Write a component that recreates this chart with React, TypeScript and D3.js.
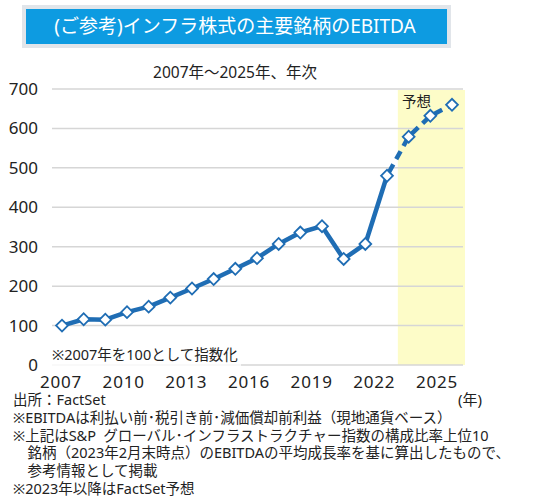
import { useEffect, useRef } from "react";
import * as d3 from "d3";

const years = [2007, 2008, 2009, 2010, 2011, 2012, 2013, 2014, 2015, 2016, 2017, 2018, 2019, 2020, 2021, 2022, 2023, 2024, 2025];
const ebitda = [100, 116, 115, 134, 148, 171, 194, 218, 244, 271, 307, 336, 352, 269, 307, 480, 579, 632, 660];
const forecastFrom = 2022;
const yTicks = [0, 100, 200, 300, 400, 500, 600, 700];
const xTicks = [2007, 2010, 2013, 2016, 2019, 2022, 2025];
const notes = [
  "出所：FactSet",
  "※EBITDAは利払い前･税引き前･減価償却前利益（現地通貨ベース）",
  "※上記はS&P\u2002グローバル･インフラストラクチャー指数の構成比率上位10",
  "　銘柄（2023年2月末時点）のEBITDAの平均成長率を基に算出したもので、",
  "　参考情報として掲載",
  "※2023年以降はFactSet予想",
];

const FONT = "'Noto Sans', 'Noto Sans CJK JP', sans-serif";
const BLUE = "#1f6db4";

export default function App() {
  const ref = useRef<SVGSVGElement>(null);

  useEffect(() => {
    const svg = d3.select(ref.current);
    svg.selectAll("*").remove();

    const x = d3.scaleLinear().domain([2007, 2025]).range([62, 452]);
    const y = d3.scaleLinear().domain([0, 700]).range([365, 89]);
    // tick labels in the source sit on a slightly narrower spacing than the points
    const xLab = d3.scaleLinear().domain([2007, 2025]).range([61, 437]);

    // title box
    svg.append("rect").attr("x", 22).attr("y", 5).attr("width", 429).attr("height", 43).attr("fill", "#e1e5ea");
    svg.append("rect").attr("x", 26).attr("y", 9).attr("width", 421).attr("height", 35).attr("fill", "#0d9be1");
    svg
      .append("text")
      .attr("x", 235)
      .attr("y", 33)
      .attr("text-anchor", "middle")
      .attr("fill", "#fff")
      .attr("font-size", 19)
      .attr("font-family", FONT)
      .text("(ご参考)インフラ株式の主要銘柄のEBITDA");

    svg
      .append("text")
      .attr("x", 235)
      .attr("y", 78)
      .attr("text-anchor", "middle")
      .attr("fill", "#222")
      .attr("font-size", 15.5)
      .attr("font-family", FONT)
      .text("2007年～2025年、年次");

    // forecast band
    const bandX0 = (x(2022) + x(2023)) / 2;
    svg
      .append("rect")
      .attr("x", bandX0)
      .attr("y", y(700) + 1)
      .attr("width", x(2025) + 13 - bandX0)
      .attr("height", y(0) - y(700) - 1)
      .attr("fill", "#fdfcc8");

    // grid
    svg
      .append("g")
      .selectAll("line")
      .data(yTicks)
      .join("line")
      .attr("x1", 52)
      .attr("x2", 463)
      .attr("y1", (d) => y(d))
      .attr("y2", (d) => y(d))
      .attr("stroke", "#d6d6d6")
      .attr("stroke-width", 1.5);

    svg
      .append("g")
      .selectAll("text")
      .data(yTicks)
      .join("text")
      .attr("x", 38)
      .attr("y", (d) => y(d) + 6)
      .attr("text-anchor", "end")
      .attr("font-size", 17)
      .attr("font-family", FONT)
      .attr("fill", "#222")
      .text((d) => d);

    svg
      .append("g")
      .selectAll("text")
      .data(xTicks)
      .join("text")
      .attr("x", (d) => xLab(d))
      .attr("y", 388)
      .attr("text-anchor", "middle")
      .attr("font-size", 17)
      .attr("letter-spacing", 0.8)
      .attr("font-family", FONT)
      .attr("fill", "#222")
      .text((d) => d);

    // index note
    svg.append("rect").attr("x", 51).attr("y", 346).attr("width", 190).attr("height", 20).attr("fill", "#fff").attr("opacity", 0.8);
    svg
      .append("text")
      .attr("x", 52)
      .attr("y", 360)
      .attr("font-size", 14.5)
      .attr("font-family", FONT)
      .attr("fill", "#222")
      .text("※2007年を100として指数化");

    svg
      .append("text")
      .attr("x", 402)
      .attr("y", 107)
      .attr("font-size", 14.5)
      .attr("font-family", FONT)
      .attr("fill", "#222")
      .text("予想");

    const pts = years.map((yr, i) => ({ yr, v: ebitda[i] }));
    const line = d3
      .line<{ yr: number; v: number }>()
      .x((d) => x(d.yr))
      .y((d) => y(d.v));

    svg
      .append("path")
      .attr("d", line(pts.filter((d) => d.yr <= forecastFrom)))
      .attr("fill", "none")
      .attr("stroke", BLUE)
      .attr("stroke-width", 4.5)
      .attr("stroke-linejoin", "round");

    svg
      .append("path")
      .attr("d", line(pts.filter((d) => d.yr >= forecastFrom)))
      .attr("fill", "none")
      .attr("stroke", BLUE)
      .attr("stroke-width", 4.5)
      .attr("stroke-dasharray", "9,6")
      .attr("stroke-dashoffset", -4);

    svg
      .append("g")
      .selectAll("path")
      .data(pts)
      .join("path")
      .attr("d", d3.symbol(d3.symbolSquare, 70)())
      .attr("transform", (d) => `translate(${x(d.yr)},${y(d.v)}) rotate(45)`)
      .attr("fill", "#fff")
      .attr("stroke", BLUE)
      .attr("stroke-width", 1.8);

    svg
      .append("text")
      .attr("x", 458)
      .attr("y", 405)
      .attr("font-size", 15)
      .attr("font-family", FONT)
      .attr("fill", "#222")
      .text("(年)");

    svg
      .append("g")
      .selectAll("text")
      .data(notes)
      .join("text")
      .attr("x", 13)
      .attr("y", (_, i) => 405 + i * 17.8)
      .attr("font-size", 14.5)
      .attr("font-family", FONT)
      .attr("fill", "#222")
      .text((d) => d);
  }, []);

  return (
    <svg
      ref={ref}
      width={540}
      height={502}
      style={{ position: "absolute", left: 0, top: 0, background: "#fff" }}
    />
  );
}
